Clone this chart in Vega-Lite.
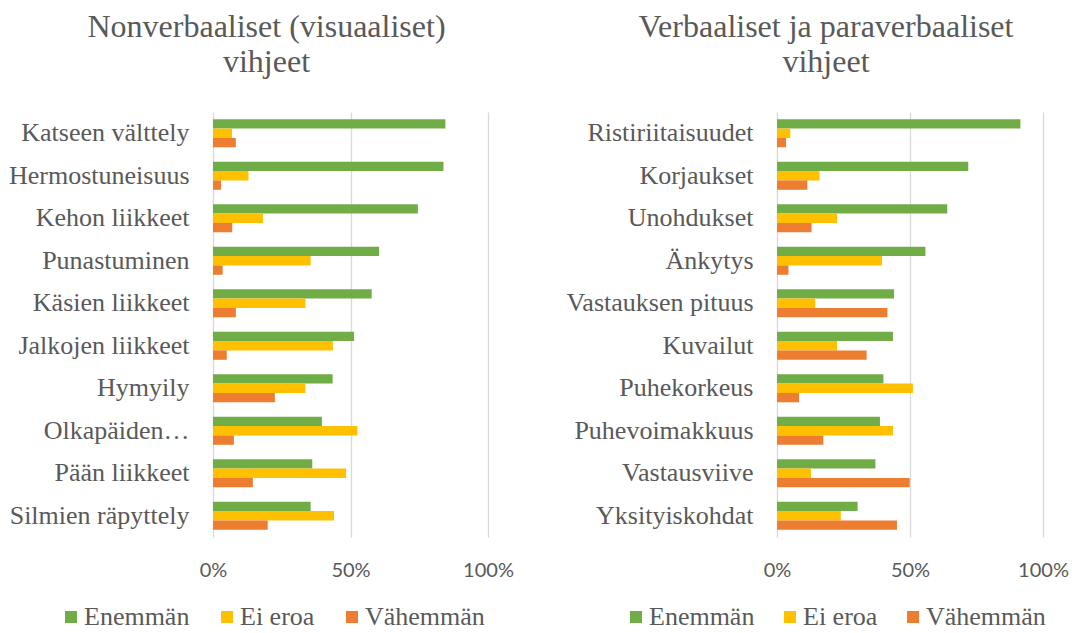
{
  "$schema": "https://vega.github.io/schema/vega-lite/v6.json",
  "padding": {"left": 3, "top": 11, "right": 5, "bottom": 0},
  "background": "white",
  "datasets": {
    "nonverbal": [
      {"cue": "Katseen välttely", "series": "Enemmän", "share": 0.845},
      {"cue": "Katseen välttely", "series": "Ei eroa", "share": 0.069},
      {"cue": "Katseen välttely", "series": "Vähemmän", "share": 0.083},
      {"cue": "Hermostuneisuus", "series": "Enemmän", "share": 0.838},
      {"cue": "Hermostuneisuus", "series": "Ei eroa", "share": 0.129},
      {"cue": "Hermostuneisuus", "series": "Vähemmän", "share": 0.029},
      {"cue": "Kehon liikkeet", "series": "Enemmän", "share": 0.745},
      {"cue": "Kehon liikkeet", "series": "Ei eroa", "share": 0.182},
      {"cue": "Kehon liikkeet", "series": "Vähemmän", "share": 0.07},
      {"cue": "Punastuminen", "series": "Enemmän", "share": 0.604},
      {"cue": "Punastuminen", "series": "Ei eroa", "share": 0.355},
      {"cue": "Punastuminen", "series": "Vähemmän", "share": 0.035},
      {"cue": "Käsien liikkeet", "series": "Enemmän", "share": 0.577},
      {"cue": "Käsien liikkeet", "series": "Ei eroa", "share": 0.336},
      {"cue": "Käsien liikkeet", "series": "Vähemmän", "share": 0.083},
      {"cue": "Jalkojen liikkeet", "series": "Enemmän", "share": 0.513},
      {"cue": "Jalkojen liikkeet", "series": "Ei eroa", "share": 0.436},
      {"cue": "Jalkojen liikkeet", "series": "Vähemmän", "share": 0.05},
      {"cue": "Hymyily", "series": "Enemmän", "share": 0.435},
      {"cue": "Hymyily", "series": "Ei eroa", "share": 0.336},
      {"cue": "Hymyily", "series": "Vähemmän", "share": 0.225},
      {"cue": "Olkapäiden…", "series": "Enemmän", "share": 0.396},
      {"cue": "Olkapäiden…", "series": "Ei eroa", "share": 0.525},
      {"cue": "Olkapäiden…", "series": "Vähemmän", "share": 0.076},
      {"cue": "Pään liikkeet", "series": "Enemmän", "share": 0.361},
      {"cue": "Pään liikkeet", "series": "Ei eroa", "share": 0.484},
      {"cue": "Pään liikkeet", "series": "Vähemmän", "share": 0.145},
      {"cue": "Silmien räpyttely", "series": "Enemmän", "share": 0.355},
      {"cue": "Silmien räpyttely", "series": "Ei eroa", "share": 0.44},
      {"cue": "Silmien räpyttely", "series": "Vähemmän", "share": 0.199}
    ],
    "verbal": [
      {"cue": "Ristiriitaisuudet", "series": "Enemmän", "share": 0.915},
      {"cue": "Ristiriitaisuudet", "series": "Ei eroa", "share": 0.05},
      {"cue": "Ristiriitaisuudet", "series": "Vähemmän", "share": 0.034},
      {"cue": "Korjaukset", "series": "Enemmän", "share": 0.719},
      {"cue": "Korjaukset", "series": "Ei eroa", "share": 0.16},
      {"cue": "Korjaukset", "series": "Vähemmän", "share": 0.114},
      {"cue": "Unohdukset", "series": "Enemmän", "share": 0.64},
      {"cue": "Unohdukset", "series": "Ei eroa", "share": 0.226},
      {"cue": "Unohdukset", "series": "Vähemmän", "share": 0.13},
      {"cue": "Änkytys", "series": "Enemmän", "share": 0.558},
      {"cue": "Änkytys", "series": "Ei eroa", "share": 0.395},
      {"cue": "Änkytys", "series": "Vähemmän", "share": 0.043},
      {"cue": "Vastauksen pituus", "series": "Enemmän", "share": 0.44},
      {"cue": "Vastauksen pituus", "series": "Ei eroa", "share": 0.144},
      {"cue": "Vastauksen pituus", "series": "Vähemmän", "share": 0.415},
      {"cue": "Kuvailut", "series": "Enemmän", "share": 0.436},
      {"cue": "Kuvailut", "series": "Ei eroa", "share": 0.226},
      {"cue": "Kuvailut", "series": "Vähemmän", "share": 0.337},
      {"cue": "Puhekorkeus", "series": "Enemmän", "share": 0.4},
      {"cue": "Puhekorkeus", "series": "Ei eroa", "share": 0.511},
      {"cue": "Puhekorkeus", "series": "Vähemmän", "share": 0.083},
      {"cue": "Puhevoimakkuus", "series": "Enemmän", "share": 0.387},
      {"cue": "Puhevoimakkuus", "series": "Ei eroa", "share": 0.436},
      {"cue": "Puhevoimakkuus", "series": "Vähemmän", "share": 0.174},
      {"cue": "Vastausviive", "series": "Enemmän", "share": 0.37},
      {"cue": "Vastausviive", "series": "Ei eroa", "share": 0.128},
      {"cue": "Vastausviive", "series": "Vähemmän", "share": 0.499},
      {"cue": "Yksityiskohdat", "series": "Enemmän", "share": 0.303},
      {"cue": "Yksityiskohdat", "series": "Ei eroa", "share": 0.24},
      {"cue": "Yksityiskohdat", "series": "Vähemmän", "share": 0.451}
    ]
  },
  "spacing": 51,
  "hconcat": [
    {
      "data": {"name": "nonverbal"},
      "width": 275,
      "height": 425,
      "title": {"text": ["Nonverbaaliset (visuaaliset)", "vihjeet"], "dx": -84},
      "mark": {"type": "bar"},
      "encoding": {
        "y": {"field": "cue", "type": "nominal", "sort": null, "title": null,
              "scale": {"paddingInner": 0.34, "paddingOuter": 0.17}},
        "yOffset": {"field": "series", "type": "nominal", "sort": ["Enemmän", "Ei eroa", "Vähemmän"]},
        "x": {"field": "share", "type": "quantitative", "title": null,
              "scale": {"domain": [0, 1]}, "axis": {"values": [0, 0.5, 1], "format": ".0%", "labelFlush": false}},
        "color": {"field": "series", "type": "nominal",
                  "scale": {"domain": ["Enemmän", "Ei eroa", "Vähemmän"], "range": ["#70AD47", "#FFC000", "#ED7D31"]},
                  "legend": {"orient": "none", "legendX": -155, "legendY": 492, "direction": "horizontal", "title": null,
                             "symbolType": "square", "symbolSize": 144, "symbolStrokeWidth": 0, "symbolOpacity": 1,
                             "labelFont": "Liberation Serif", "labelFontSize": 26, "labelColor": "#595959",
                             "labelOffset": 0, "columnPadding": 24, "labelLimit": 300}}
      }
    },
    {
      "data": {"name": "verbal"},
      "width": 266,
      "height": 425,
      "title": {"text": ["Verbaaliset ja paraverbaaliset", "vihjeet"], "dx": -84},
      "mark": {"type": "bar"},
      "encoding": {
        "y": {"field": "cue", "type": "nominal", "sort": null, "title": null,
              "scale": {"paddingInner": 0.34, "paddingOuter": 0.17}},
        "yOffset": {"field": "series", "type": "nominal", "sort": ["Enemmän", "Ei eroa", "Vähemmän"]},
        "x": {"field": "share", "type": "quantitative", "title": null,
              "scale": {"domain": [0, 1]}, "axis": {"values": [0, 0.5, 1], "format": ".0%", "labelFlush": false}},
        "color": {"field": "series", "type": "nominal",
                  "scale": {"domain": ["Enemmän", "Ei eroa", "Vähemmän"], "range": ["#70AD47", "#FFC000", "#ED7D31"]},
                  "legend": {"orient": "none", "legendX": -154, "legendY": 492, "direction": "horizontal", "title": null,
                             "symbolType": "square", "symbolSize": 144, "symbolStrokeWidth": 0, "symbolOpacity": 1,
                             "labelFont": "Liberation Serif", "labelFontSize": 26, "labelColor": "#595959",
                             "labelOffset": 0, "columnPadding": 22, "labelLimit": 300}}
      }
    }
  ],
  "resolve": {"scale": {"y": "independent", "x": "independent", "color": "independent"}, "legend": {"color": "independent"}},
  "config": {
    "font": "Liberation Serif",
    "view": {"stroke": null},
    "title": {"font": "Liberation Serif", "fontSize": 32, "fontWeight": "normal", "color": "#595959", "lineHeight": 35, "anchor": "middle", "frame": "group", "offset": 33},
    "axisY": {"domain": false, "ticks": false, "grid": false, "labelFont": "Liberation Serif", "labelFontSize": 26, "labelColor": "#595959", "labelPadding": 24, "minExtent": 210, "maxExtent": 210, "labelLimit": 300},
    "axisX": {"domain": false, "ticks": false, "grid": true, "gridColor": "#D9D9D9", "gridWidth": 1.3, "labelFont": "Lato", "labelFontSize": 20, "labelColor": "#595959", "labelPadding": 23},
    "legend": {"labelFont": "Liberation Serif", "labelFontSize": 26, "labelColor": "#595959"}
  }
}
